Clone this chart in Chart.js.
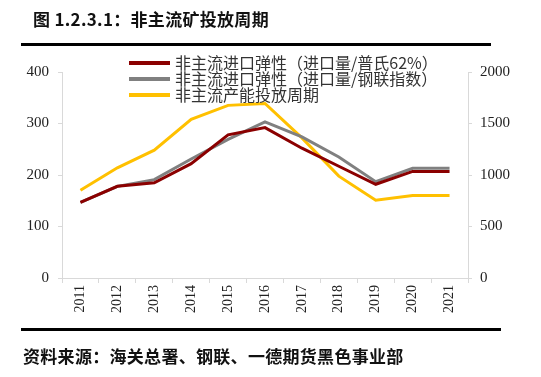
<!DOCTYPE html>
<html>
<head>
<meta charset="utf-8">
<script src="https://cdn.jsdelivr.net/npm/chart.js@4"></script>
<style>
  body { margin: 0; background: #fff; }
  #wrap { position: relative; width: 541px; height: 377px; }
  #title { position: absolute; left: 33px; top: 6px; font: bold 17px "Noto Sans CJK SC"; color: #111; letter-spacing: 0.3px; }
  #src { position: absolute; left: 23px; top: 343px; font: bold 17px "Noto Sans CJK SC"; color: #111; letter-spacing: 0.3px; }
  .rule { position: absolute; left: 21px; height: 3px; background: #000; }
  canvas { position: absolute; left: 0; top: 0; }
</style>
</head>
<body>
<div id="wrap">
  <canvas id="graph" width="541" height="377"></canvas>
  <div id="title">图 1.2.3.1：非主流矿投放周期</div>
  <div class="rule" style="top:43px;width:470px"></div>
  <div class="rule" style="top:328px;width:480px"></div>
  <div id="src">资料来源：海关总署、钢联、一德期货黑色事业部</div>
</div>
<script>
// 年份
const years = ['2011', '2012', '2013', '2014', '2015', '2016', '2017', '2018', '2019', '2020', '2021'];
// 左轴
const tanxingPushi = [147, 178, 185, 222, 278, 292, 252, 217, 182, 207, 207];
const tanxingGanglian = [147, 178, 191, 231, 269, 303, 274, 235, 187, 213, 213];
// 右轴
const channengZhouqi = [852, 1070, 1241, 1540, 1676, 1695, 1360, 989, 755, 800, 800];

const leftTicks = [0, 100, 200, 300, 400];
const rightTicks = [0, 500, 1000, 1500, 2000];

const axisColor = '#d9d9d9';

// 图例画在绘图区上方
const legendPlugin = {
    id: 'topLegend',
    afterDraw(chart) {
        const ctx = chart.ctx;
        ctx.save();
        ctx.font = '16px "Noto Sans CJK SC"';
        ctx.textBaseline = 'middle';
        chart.data.datasets.forEach((ds, i) => {
            const y = 63 + i * 16;
            ctx.strokeStyle = ds.borderColor;
            ctx.lineWidth = 4;
            ctx.beginPath();
            ctx.moveTo(129, y);
            ctx.lineTo(170, y);
            ctx.stroke();
            ctx.fillStyle = '#333';
            ctx.fillText(ds.label, 175, y);
        });
        ctx.restore();
    }
};

const ctx = document.getElementById('graph').getContext('2d');
new Chart(ctx, {
    type: 'line',
    data: {
        labels: years,
        datasets: [
            { label: '非主流进口弹性（进口量/普氏62%）', data: tanxingPushi, borderColor: '#8b0000', yAxisID: 'y' },
            { label: '非主流进口弹性（进口量/钢联指数）', data: tanxingGanglian, borderColor: '#808080', yAxisID: 'y' },
            { label: '非主流产能投放周期', data: channengZhouqi, borderColor: '#ffc000', yAxisID: 'y1' }
        ]
    },
    options: {
        responsive: false,
        animation: false,
        layout: { padding: { top: 72, bottom: 50, left: 0, right: 0 } },
        elements: {
            line: { borderWidth: 3, tension: 0 },
            point: { radius: 0 }
        },
        plugins: { legend: { display: false }, tooltip: { enabled: false } },
        scales: {
            x: {
                offset: true,
                grid: { offset: true, drawOnChartArea: false, color: axisColor, tickLength: 5 },
                border: { color: axisColor },
                ticks: {
                    minRotation: 90, maxRotation: 90, padding: 2,
                    color: '#222', font: { family: 'Liberation Serif', size: 14 }
                },
                afterFit(scale) { scale.height = 49; }
            },
            y: {
                position: 'left',
                min: 0, max: 400,
                afterBuildTicks(scale) { scale.ticks = leftTicks.map(v => ({ value: v })); },
                grid: { drawOnChartArea: false, color: axisColor, tickLength: 4 },
                border: { color: axisColor },
                ticks: { color: '#222', padding: 9, font: { family: 'Liberation Serif', size: 15 } },
                afterFit(scale) { scale.width = 62; }
            },
            y1: {
                position: 'right',
                min: 0, max: 2000,
                afterBuildTicks(scale) { scale.ticks = rightTicks.map(v => ({ value: v })); },
                grid: { drawOnChartArea: false, color: axisColor, tickLength: 4 },
                border: { color: axisColor },
                ticks: {
                    color: '#222', padding: 8, font: { family: 'Liberation Serif', size: 15 },
                    callback: (v) => String(v)
                },
                afterFit(scale) { scale.width = 73; }
            }
        }
    },
    plugins: [legendPlugin]
});
</script>
</body>
</html>
